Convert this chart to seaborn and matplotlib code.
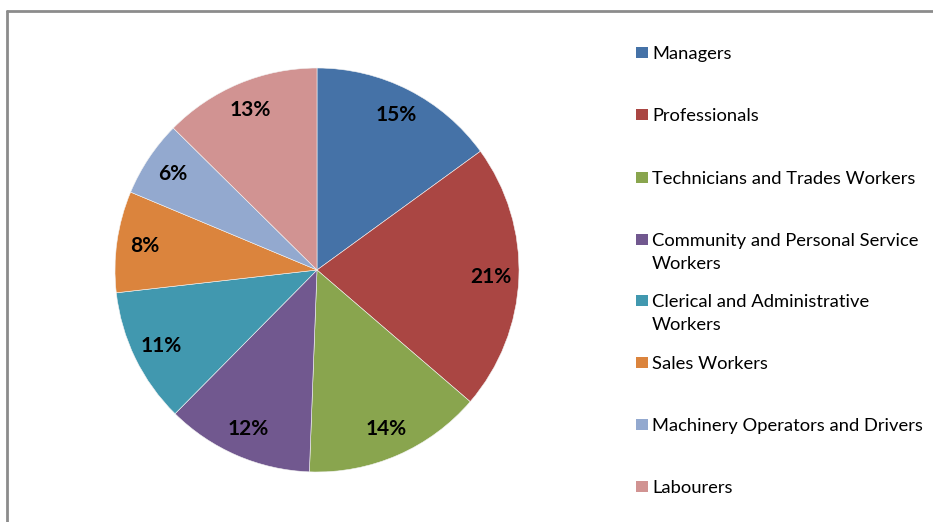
import matplotlib
matplotlib.use("Agg")
import matplotlib.pyplot as plt
from matplotlib.lines import Line2D
from matplotlib.patches import Rectangle
import seaborn as sns

# Share of employed persons by occupation (%)
occupations = [
    "Managers",
    "Professionals",
    "Technicians and Trades Workers",
    "Community and Personal Service\nWorkers",
    "Clerical and Administrative\nWorkers",
    "Sales Workers",
    "Machinery Operators and Drivers",
    "Labourers",
]
shares = [15.0, 21.3, 14.3, 11.8, 10.8, 8.1, 6.1, 12.6]
colours = ["#4572A7", "#AA4643", "#89A54E", "#71588F",
           "#4198AF", "#DB843D", "#93A9CF", "#D19392"]

sns.set_theme(style="white")
plt.rcParams["font.family"] = ["Lato", "DejaVu Sans"]

W, H = 933, 522
fig = plt.figure(figsize=(W / 100, H / 100), dpi=100)
fig.patch.set_facecolor("white")

def fx(px):
    return px / W

def fy(py):
    return 1 - py / H

# pie axes: centre (317, 270) px, radius 202 px
cx, cy, r = 317, 270, 202
ax = fig.add_axes([fx(cx - r), fy(cy + r), 2 * r / W, 2 * r / H])
palette = sns.color_palette(colours)
wedges, texts, autotexts = ax.pie(
    shares,
    colors=palette,
    startangle=90,
    counterclock=False,
    autopct="%.0f%%",
    pctdistance=0.86,
    wedgeprops=dict(edgecolor="#f4f4f4", linewidth=0.4),
    textprops=dict(fontsize=15, fontweight="bold", color="black"),
    radius=1.0,
)
ax.set_xlim(-1, 1)
ax.set_ylim(-1, 1)
ax.set_aspect("equal")
ax.axis("off")

# legend entries, laid out down the right-hand side
baselines = [59, 121, 184, 246, 307, 369, 431, 493]
line_gap = 23
for name, col, base in zip(occupations, colours, baselines):
    fig.add_artist(Rectangle((fx(636), fy(base - 1)), 12 / W, 11 / H,
                             transform=fig.transFigure, facecolor=col,
                             edgecolor="none"))
    for i, line in enumerate(name.split("\n")):
        fig.text(fx(652), fy(base + i * line_gap), line, fontsize=13.2,
                 color="black", ha="left", va="baseline")

# chart-area frame
frame = dict(color="#8c8c8c", linewidth=2.0, transform=fig.transFigure)
fig.add_artist(Line2D([fx(7.5), 1.0], [fy(10.5), fy(10.5)], **frame))
fig.add_artist(Line2D([fx(7.5), fx(7.5)], [fy(10.5), 0.0], **frame))

fig.savefig("out.png", dpi=100, facecolor="white")
